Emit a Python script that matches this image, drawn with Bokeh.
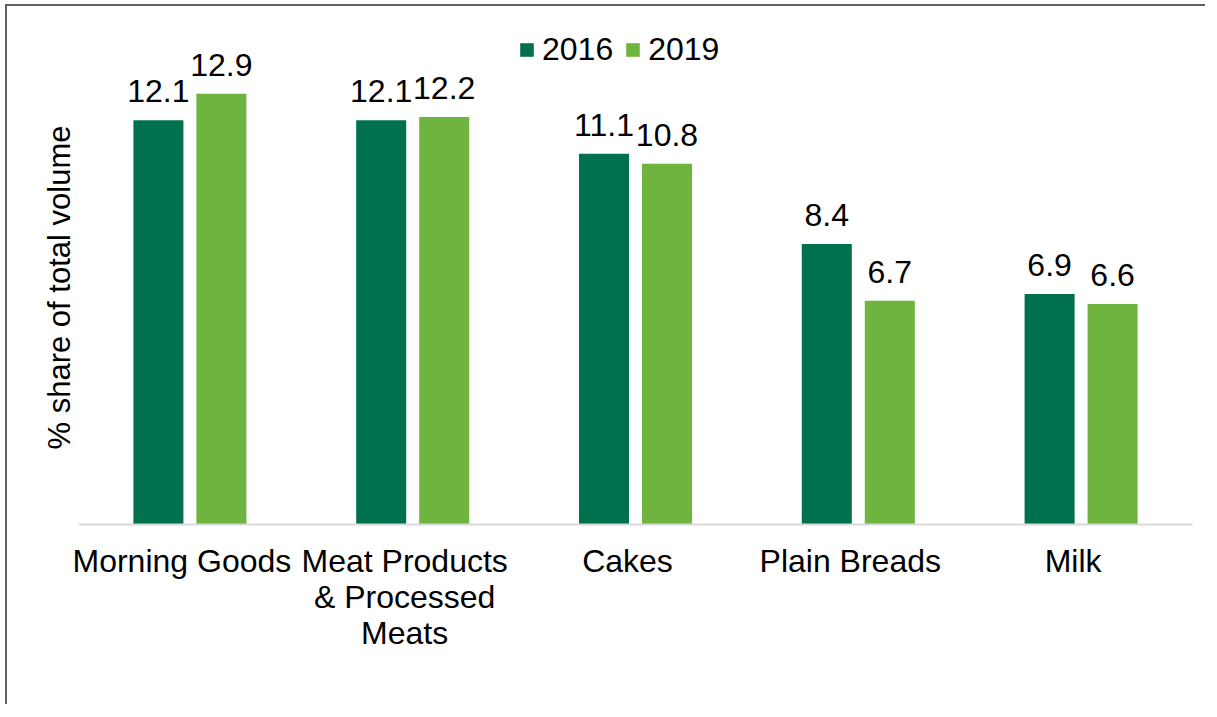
from bokeh.plotting import figure
from bokeh.models import (Range1d, ColumnDataSource, Legend, LegendItem,
                          FixedTicker, LinearAxis, Title, LinearScale)
from bokeh.transform import dodge
from bokeh.core.properties import value
from bokeh.embed import file_html
from bokeh.resources import INLINE

categories = ["Morning Goods", "Meat Products\n& Processed\nMeats", "Cakes", "Plain Breads", "Milk"]
values_2016 = [12.1, 12.1, 11.1, 8.4, 6.9]
values_2019 = [12.9, 12.2, 10.8, 6.7, 6.6]
series_names = ["2016", "2019"]
y_title = "% share of total volume"

FONT = "Liberation Sans"
FS = "32px"
DARK = "#00704F"
LIGHT = "#6EB43F"

n = len(categories)
src = ColumnDataSource(dict(
    idx=list(range(n)),
    v16=values_2016,
    v19=values_2019,
    t16=[f"{v:.1f}" for v in values_2016],
    t19=[f"{v:.1f}" for v in values_2019],
))

p = figure(width=1200, height=700, output_backend="svg", toolbar_location=None,
           x_range=Range1d(-0.5, n - 0.5), y_range=Range1d(0, 14.79),
           x_axis_location=None, y_axis_location=None,
           min_border_left=71, min_border_right=15, min_border_top=24, min_border_bottom=182)
p.styles = {"border-left": "2px solid #5F6062", "border-top": "2px solid #5F6062",
            "margin-left": "5px", "margin-top": "4px"}

off = 0.1414
bw = 0.2245
r16 = p.vbar(x=dodge("idx", -off), top="v16", width=bw, source=src,
             fill_color=DARK, line_color=None)
r19 = p.vbar(x=dodge("idx", off), top="v19", width=bw, source=src,
             fill_color=LIGHT, line_color=None)

p.text(x=dodge("idx", -off), y="v16", text="t16", source=src,
       text_align="center", text_baseline="alphabetic", y_offset=-29,
       text_font=value(FONT), text_font_size=FS, text_color="#000000")
p.text(x=dodge("idx", off), y="v19", text="t19", source=src,
       text_align="center", text_baseline="alphabetic", y_offset=-29,
       text_font=value(FONT), text_font_size=FS, text_color="#000000")

legend = Legend(items=[LegendItem(label=series_names[0], renderers=[r16]),
                       LegendItem(label=series_names[1], renderers=[r19])],
                orientation="horizontal", location=(440, 456),
                glyph_width=17, glyph_height=17, label_standoff=7, spacing=11,
                padding=0, margin=0, border_line_color=None, background_fill_alpha=0,
                label_text_font=FONT, label_text_font_size=FS, label_text_color="#000000")
p.add_layout(legend, "center")

p.xgrid.visible = False
p.ygrid.visible = False
p.outline_line_color = None

# category label axis (labels sit slightly left of the bar-group centres, as in the reference)
p.extra_x_ranges = {"lab": Range1d(-0.5 + 0.036, n - 0.5 + 0.036)}
p.extra_x_scales = {"lab": LinearScale()}
xax = LinearAxis(x_range_name="lab",
                 ticker=FixedTicker(ticks=list(range(n))),
                 major_label_overrides={i: c for i, c in enumerate(categories)})
xax.axis_line_color = "#D9D9D9"
xax.axis_line_width = 2
xax.major_tick_line_color = None
xax.minor_tick_line_color = None
xax.major_tick_out = 0
xax.major_tick_in = 0
xax.major_label_standoff = 18
xax.major_label_text_font = FONT
xax.major_label_text_font_size = FS
xax.major_label_text_color = "#000000"
xax.major_label_text_line_height = 1.0
p.add_layout(xax, "below")

yt = Title(text=y_title, align="left", offset=75, standoff=4,
           text_font=FONT, text_font_size="31px", text_font_style="normal", text_color="#000000")
p.add_layout(yt, "left")

open("out.html", "w").write(file_html(p, INLINE))
